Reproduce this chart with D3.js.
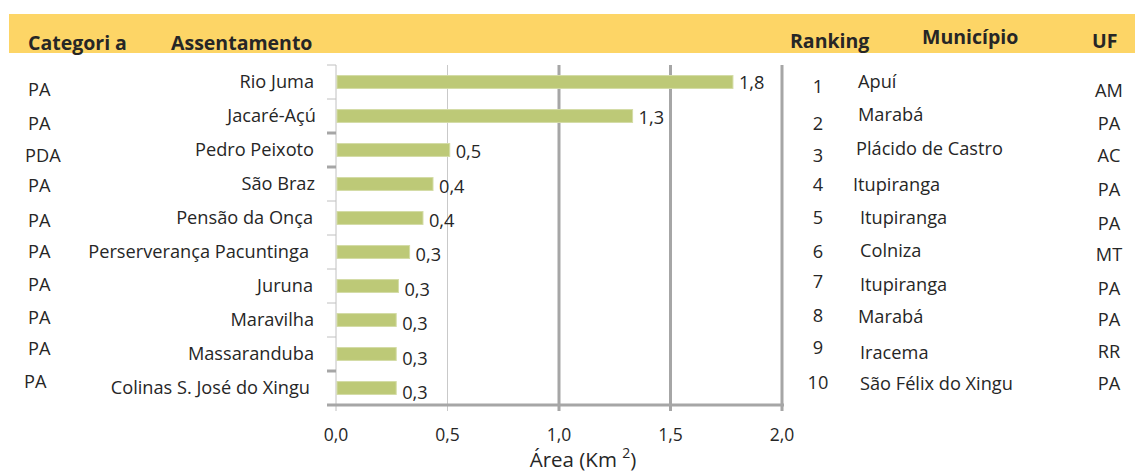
<!DOCTYPE html>
<html>
<head>
<meta charset="utf-8">
<script src="https://cdn.jsdelivr.net/npm/d3@7"></script>
<style>
  body { margin: 0; background: #fff; }
  svg { display: block; font-family: "Open Sans", Lato, sans-serif; }
</style>
</head>
<body>
<svg id="svg" width="1135" height="474"></svg>
<script>
// data
const assentamentos = ["Rio Juma", "Jacaré-Açú", "Pedro Peixoto", "São Braz", "Pensão da Onça",
  "Perserverança Pacuntinga", "Juruna", "Maravilha", "Massaranduba", "Colinas S. José do Xingu"];
const areas = [1.78, 1.33, 0.51, 0.435, 0.39, 0.33, 0.28, 0.27, 0.27, 0.27];
const valueLabels = ["1,8", "1,3", "0,5", "0,4", "0,4", "0,3", "0,3", "0,3", "0,3", "0,3"];
const categorias = ["PA", "PA", "PDA", "PA", "PA", "PA", "PA", "PA", "PA", "PA"];
const ranking = [1, 2, 3, 4, 5, 6, 7, 8, 9, 10];
const municipios = ["Apuí", "Marabá", "Plácido de Castro", "Itupiranga", "Itupiranga",
  "Colniza", "Itupiranga", "Marabá", "Iracema", "São Félix do Xingu"];
const ufs = ["AM", "PA", "AC", "PA", "PA", "MT", "PA", "PA", "RR", "PA"];
const xTicks = [0, 0.5, 1, 1.5, 2];

var width = 1135, height = 474;
var margin = {top: 65, bottom: 405, left: 336, right: 782};
var textColor = "#262626";
var gridColor = "#a6a6a6";
var fs = 18.2;

var svg = d3.select("#svg").attr("viewBox", [0, 0, width, height]);

// yellow header strip
svg.append("rect")
    .attr("x", 9).attr("y", 14)
    .attr("width", width - 9).attr("height", 39)
    .attr("fill", "#fdd566");

var headers = [
  {t: "Categoria", x: 28, y: 50},
  {t: "Assentamento", x: 171, y: 50},
  {t: "Ranking", x: 790, y: 48},
  {t: "Município", x: 922, y: 44},
  {t: "UF", x: 1092, y: 48}
];
var hdr = svg.selectAll(".hdr")
  .data(headers)
  .join("text")
    .attr("class", "hdr")
    .attr("x", d => d.x).attr("y", d => d.y)
    .attr("font-weight", "bold")
    .attr("font-size", 19.5)
    .attr("fill", textColor);
// the original has an odd gap before the last "a" of Categoria
hdr.each(function(d) {
  var t = d3.select(this);
  if (d.t === "Categoria") {
    t.append("tspan").text("Categori");
    t.append("tspan").attr("dx", 5).text("a");
  } else {
    t.text(d.t);
  }
});

var x = d3.scaleLinear()
    .domain([0, 2])
    .range([margin.left, margin.right]);

var y = d3.scaleBand()
    .domain(assentamentos)
    .range([margin.top, margin.bottom])
    .paddingInner(0.62)
    .paddingOuter(0.31);

// gridlines (0,5 is thin, the rest thick like in the original)
svg.append("g")
  .selectAll("line")
  .data(xTicks.slice(1))
  .join("line")
    .attr("x1", d => x(d)).attr("x2", d => x(d))
    .attr("y1", margin.top).attr("y2", margin.bottom + 6)
    .attr("stroke", d => d === 0.5 ? "#c9c9c9" : gridColor)
    .attr("stroke-width", d => d === 0.5 ? 1 : 3);

// y axis line + band ticks
svg.append("line")
    .attr("x1", x(0)).attr("x2", x(0))
    .attr("y1", margin.top).attr("y2", margin.bottom + 6)
    .attr("stroke", "#c0c0c0");
var bounds = d3.range(assentamentos.length + 1).map(i => margin.top + i * y.step());
svg.append("g")
  .selectAll("line")
  .data(bounds)
  .join("line")
    .attr("x1", x(0) - 9).attr("x2", x(0))
    .attr("y1", d => d).attr("y2", d => d)
    .attr("stroke", (d, i) => [2, 3, 9].includes(i) ? gridColor : "#c0c0c0")
    .attr("stroke-width", (d, i) => [2, 3, 9].includes(i) ? 3 : 1);

// x axis line
svg.append("line")
    .attr("x1", x(0) - 9).attr("x2", x(2) + 2)
    .attr("y1", margin.bottom).attr("y2", margin.bottom)
    .attr("stroke", gridColor).attr("stroke-width", 3);

// bars
svg.append("g")
  .selectAll("rect")
  .data(areas)
  .join("rect")
    .attr("x", x(0) + 1)
    .attr("y", (d, i) => y(assentamentos[i]))
    .attr("width", d => x(d) - x(0) - 1)
    .attr("height", y.bandwidth())
    .attr("fill", "#bdc977")
    .attr("stroke", "#d4dca6")
    .attr("stroke-width", 1);

// value labels
svg.append("g")
  .selectAll("text")
  .data(areas)
  .join("text")
    .attr("x", d => x(d) + 6)
    .attr("y", (d, i) => y(assentamentos[i]) + y.bandwidth() / 2 + 1 + i * 0.4)
    .attr("dy", "0.35em")
    .attr("font-size", fs)
    .attr("fill", textColor)
    .text((d, i) => valueLabels[i]);

// category labels (assentamentos)
var labelEnd = [314, 316, 314, 315, 313, 309, 313, 314, 314, 310];
svg.append("g")
  .selectAll("text")
  .data(assentamentos)
  .join("text")
    .attr("x", (d, i) => labelEnd[i])
    .attr("y", d => y(d) + y.bandwidth() / 2)
    .attr("dy", "0.35em")
    .attr("text-anchor", "end")
    .attr("font-size", fs)
    .attr("fill", textColor)
    .text(d => d);

// x tick labels
svg.append("g")
  .selectAll("text")
  .data(xTicks)
  .join("text")
    .attr("x", d => x(d))
    .attr("y", 441)
    .attr("text-anchor", "middle")
    .attr("font-size", 17.5)
    .attr("fill", textColor)
    .text(d => d3.format(".1f")(d).replace(".", ","));

// axis title
var title = svg.append("text")
    .attr("x", 583).attr("y", 467)
    .attr("text-anchor", "middle")
    .attr("font-size", 20.5)
    .attr("fill", textColor);
title.append("tspan").text("Área (Km ");
title.append("tspan").attr("dy", -9).attr("font-size", 14).text("2");
title.append("tspan").attr("dy", 9).text(")");

// side tables: rows sit on their own slightly tighter spacing
var rowY = d3.scalePoint()
    .domain(ranking)
    .range([86, 384]);

var catDy = [4, 5, 3, 0, 2, 0, 0, 0, -2, -2];
svg.append("g")
  .selectAll("text")
  .data(categorias)
  .join("text")
    .attr("x", (d, i) => i === 9 ? 24 : (i === 2 ? 25 : 28))
    .attr("y", (d, i) => rowY(ranking[i]) + catDy[i])
    .attr("dy", "0.35em")
    .attr("font-size", fs)
    .attr("fill", textColor)
    .text(d => d);

var rankDy = [1, 5, 3, -1, -1, 0, -3, -2, -3, -1];
svg.append("g")
  .selectAll("text")
  .data(ranking)
  .join("text")
    .attr("x", 818)
    .attr("y", (d, i) => rowY(d) + rankDy[i])
    .attr("dy", "0.35em")
    .attr("text-anchor", "middle")
    .attr("font-size", fs)
    .attr("fill", textColor)
    .text(d => d);

var munX = [858, 858, 856, 853, 860, 860, 860, 858, 860, 860];
var munDy = [-4, -4, -4, -1, -1, -1, 0, -1, 2, 0];
svg.append("g")
  .selectAll("text")
  .data(municipios)
  .join("text")
    .attr("x", (d, i) => munX[i])
    .attr("y", (d, i) => rowY(ranking[i]) + munDy[i])
    .attr("dy", "0.35em")
    .attr("font-size", fs)
    .attr("fill", textColor)
    .text(d => d);

var ufDy = [5, 5, 3, 4, 5, 3, 4, 2, 1, 0];
svg.append("g")
  .selectAll("text")
  .data(ufs)
  .join("text")
    .attr("x", 1109)
    .attr("y", (d, i) => rowY(ranking[i]) + ufDy[i])
    .attr("dy", "0.35em")
    .attr("text-anchor", "middle")
    .attr("font-size", fs)
    .attr("fill", textColor)
    .text(d => d);
</script>
</body>
</html>
